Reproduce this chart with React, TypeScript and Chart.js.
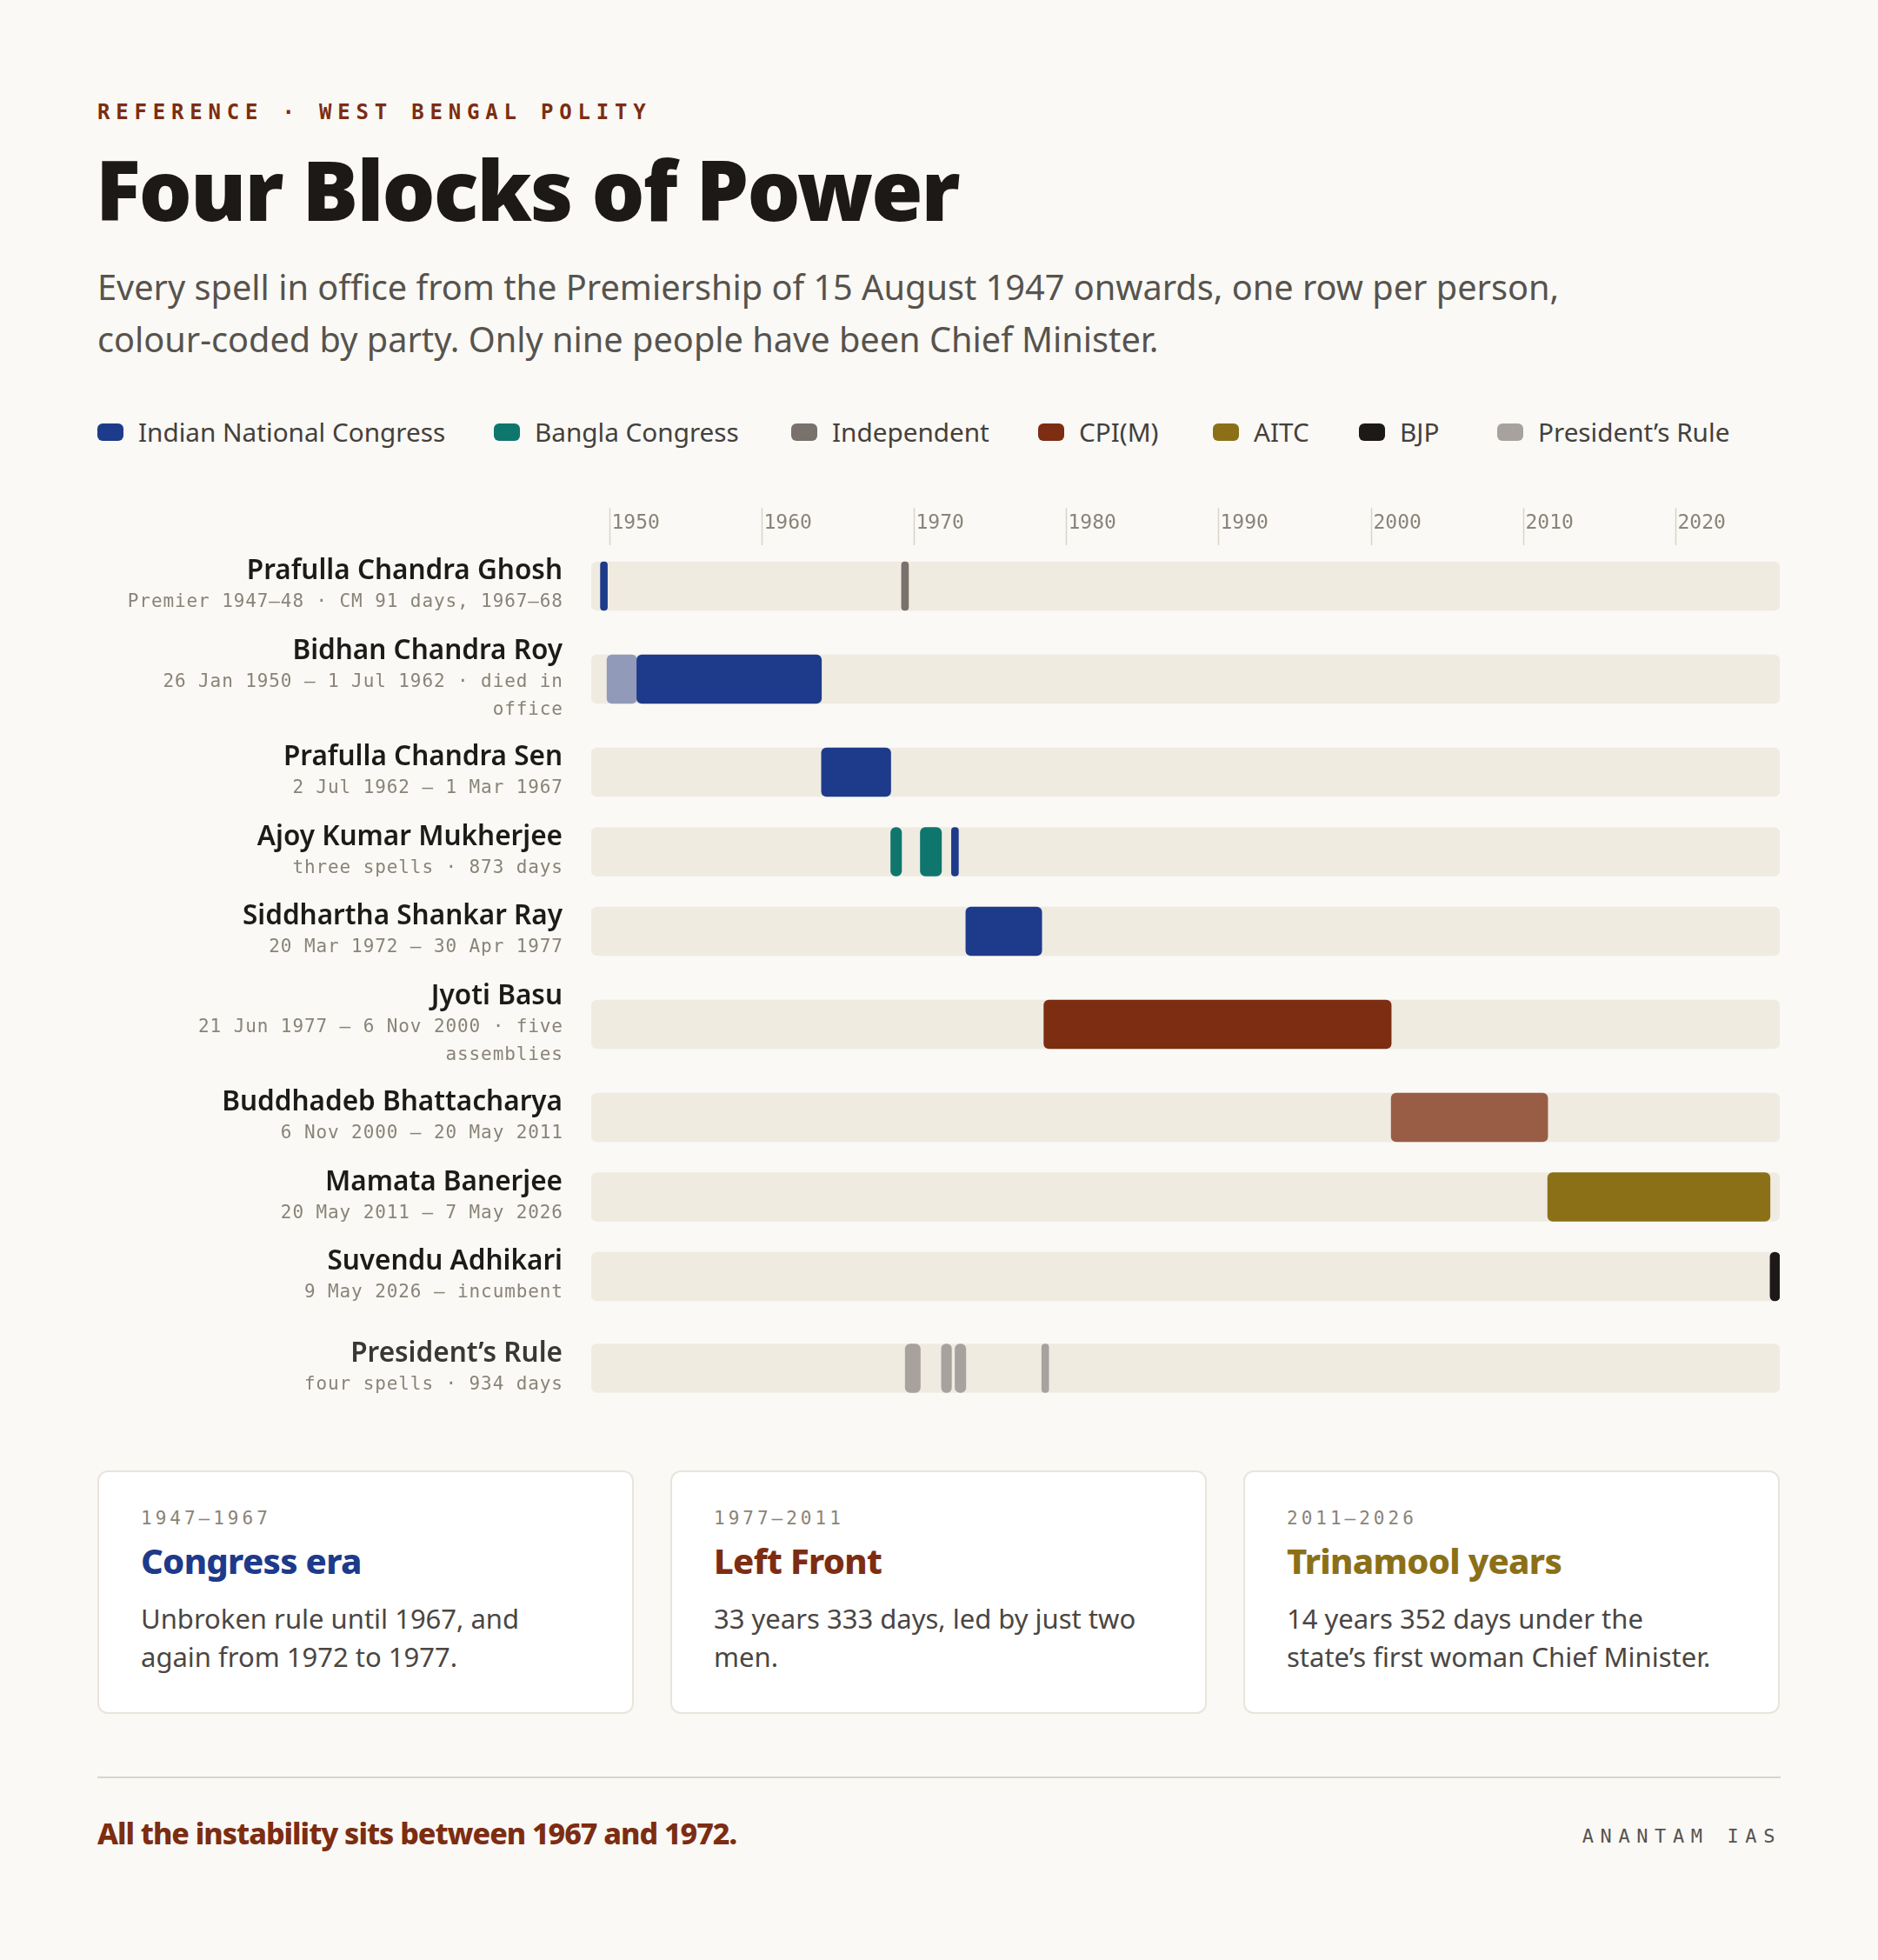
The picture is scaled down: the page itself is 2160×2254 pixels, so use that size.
import React, { useEffect, useRef } from "react";
import { Chart, registerables } from "chart.js";

Chart.register(...registerables);

// ---------- data ----------
const AXIS_START = 1947;
const AXIS_END = 2027;
const tickYears = [1950, 1960, 1970, 1980, 1990, 2000, 2010, 2020];

const rowNames = [
  "Prafulla Chandra Ghosh",
  "Bidhan Chandra Roy",
  "Prafulla Chandra Sen",
  "Ajoy Kumar Mukherjee",
  "Siddhartha Shankar Ray",
  "Jyoti Basu",
  "Buddhadeb Bhattacharya",
  "Mamata Banerjee",
  "Suvendu Adhikari",
  "President’s Rule",
];
const rowNotes = [
  ["Premier 1947–48 · CM 91 days, 1967–68"],
  ["26 Jan 1950 – 1 Jul 1962 · died in", "office"],
  ["2 Jul 1962 – 1 Mar 1967"],
  ["three spells · 873 days"],
  ["20 Mar 1972 – 30 Apr 1977"],
  ["21 Jun 1977 – 6 Nov 2000 · five", "assemblies"],
  ["6 Nov 2000 – 20 May 2011"],
  ["20 May 2011 – 7 May 2026"],
  ["9 May 2026 – incumbent"],
  ["four spells · 934 days"],
];
const rowStartsGroup = [false, false, false, false, false, false, false, false, false, true];

const partyNames = [
  "Indian National Congress",
  "Bangla Congress",
  "Independent",
  "CPI(M)",
  "AITC",
  "BJP",
  "President’s Rule",
];
const partyColors = ["#1E3A8A", "#0F766E", "#78716C", "#7C2D12", "#8B7018", "#1C1917", "#A8A29E"];

const spellRow = [0, 0, 1, 1, 2, 3, 3, 3, 4, 5, 6, 7, 8, 9, 9, 9, 9];
const spellParty = [0, 2, 0, 0, 0, 1, 1, 0, 0, 3, 3, 4, 5, 6, 6, 6, 6];
const spellStart = [
  "1947-08-15", "1967-11-21", "1948-01-23", "1950-01-26", "1962-07-02",
  "1967-03-01", "1969-02-25", "1971-04-02", "1972-03-20", "1977-06-21",
  "2000-11-06", "2011-05-20", "2026-05-09", "1968-02-20", "1970-07-30",
  "1971-06-29", "1977-04-30",
];
const spellEnd = [
  "1948-01-22", "1968-02-19", "1950-01-26", "1962-07-01", "1967-03-01",
  "1967-11-21", "1970-07-30", "1971-06-28", "1977-04-30", "2000-11-06",
  "2011-05-20", "2026-05-07", "", "1969-02-25", "1971-04-02",
  "1972-03-20", "1977-06-21",
];
const spellShade = [1, 1, 0.45, 1, 1, 1, 1, 1, 1, 1, 0.75, 1, 1, 1, 1, 1, 1];

const eraYears = ["1947–1967", "1977–2011", "2011–2026"];
const eraTitles = ["Congress era", "Left Front", "Trinamool years"];
const eraParty = [0, 3, 4];
const eraText = [
  ["Unbroken rule until 1967, and", "again from 1972 to 1977."],
  ["33 years 333 days, led by just two", "men."],
  ["14 years 352 days under the", "state’s first woman Chief Minister."],
];

// ---------- layout / style constants ----------
const BG = "#FAF9F5";
const TRACK = "#EFEBE1";
const MONO = '"DejaVu Sans Mono", monospace';
const SANS = '"Noto Sans", sans-serif';
const NOTE_COLOR = "#8A8378";
const LEGEND_ITEM_LEFT = [112, 568, 910, 1194, 1395, 1563, 1722];

// ---------- helpers ----------
function decYear(s: string): number {
  if (!s) return AXIS_END;
  const d = new Date(s + "T00:00:00Z");
  const y = d.getUTCFullYear();
  const a = Date.UTC(y, 0, 1);
  const b = Date.UTC(y + 1, 0, 1);
  return y + (d.getTime() - a) / (b - a);
}
function withAlpha(hex: string, a: number): string {
  const n = parseInt(hex.slice(1), 16);
  return `rgba(${(n >> 16) & 255},${(n >> 8) & 255},${n & 255},${a})`;
}

// row centres in chart-area pixels, derived from how many note lines each row has
const ROW_PITCH = 91.5;
const EXTRA_LINE_HALF = 15.5;
const GROUP_GAP = 14;
const FIRST_ROW = 54;
const rowCenters: number[] = [];
{
  let c = FIRST_ROW;
  rowNames.forEach((_, i) => {
    if (i > 0) {
      c += ROW_PITCH + (rowNotes[i - 1].length - 1) * EXTRA_LINE_HALF + (rowNotes[i].length - 1) * EXTRA_LINE_HALF;
      if (rowStartsGroup[i]) c += GROUP_GAP;
    }
    rowCenters.push(c);
  });
}

const CANVAS_W = 2160;
const CANVAS_H = 1080;
const AREA_H = 1000;

function ChartBlock() {
  const ref = useRef<HTMLCanvasElement | null>(null);
  useEffect(() => {
    if (!ref.current) return;

    const labelsPlugin = {
      id: "rowLabels",
      afterDatasetsDraw(chart: any) {
        const { ctx, chartArea } = chart;
        const ys = chart.scales.y;
        const right = chartArea.left - 33;
        ctx.save();
        ctx.textAlign = "right";
        ctx.textBaseline = "alphabetic";
        rowNames.forEach((name, i) => {
          const c = ys.getPixelForValue(rowCenters[i]);
          const n = rowNotes[i].length;
          const nameY = c - 8 - (n - 1) * 15.5;
          ctx.letterSpacing = "0px";
          ctx.font = `600 31.5px ${SANS}`;
          ctx.fillStyle = rowStartsGroup[i] ? "#3A3836" : "#1C1B1A";
          ctx.fillText(name, right, nameY);
          ctx.font = `21px ${MONO}`;
          ctx.letterSpacing = "0.9px";
          ctx.fillStyle = NOTE_COLOR;
          rowNotes[i].forEach((t, j) => {
            ctx.fillText(t, right + 0.9, nameY + 32 + j * 32);
          });
        });
        ctx.restore();
      },
    };

    const ticksPlugin = {
      id: "yearTicks",
      afterDraw(chart: any) {
        const { ctx, chartArea } = chart;
        const xs = chart.scales.xTicks || chart.scales.x;
        ctx.save();
        tickYears.forEach((yr) => {
          const x = Math.round(xs.getPixelForValue(yr)) + 0.5;
          ctx.strokeStyle = "#DAD4C8";
          ctx.lineWidth = 1.5;
          ctx.beginPath();
          ctx.moveTo(x, chartArea.top - 36);
          ctx.lineTo(x, chartArea.top + 7);
          ctx.stroke();
          ctx.font = `23px ${MONO}`;
          ctx.fillStyle = NOTE_COLOR;
          ctx.textAlign = "left";
          ctx.textBaseline = "alphabetic";
          ctx.fillText(String(yr), x + 2, chartArea.top - 12);
        });
        ctx.restore();
      },
    };

    const chart = new Chart(ref.current, {
      type: "bar",
      data: {
        datasets: [
          {
            label: "track",
            data: rowCenters.map((y) => ({ x: [AXIS_START, AXIS_END], y })),
            backgroundColor: TRACK,
            borderRadius: 7,
            borderSkipped: false,
            grouped: false,
            barThickness: 56,
            order: 2,
          } as any,
          {
            label: "spells",
            data: spellRow.map((r, i) => ({
              x: [decYear(spellStart[i]), decYear(spellEnd[i])],
              y: rowCenters[r],
            })),
            backgroundColor: spellParty.map((p, i) => withAlpha(partyColors[p], spellShade[i])),
            borderRadius: 6,
            borderSkipped: false,
            grouped: false,
            barThickness: 56,
            minBarLength: 8,
            order: 1,
          } as any,
        ],
      },
      options: {
        indexAxis: "y",
        animation: false,
        responsive: false,
        maintainAspectRatio: false,
        layout: { padding: { left: 680, right: CANVAS_W - 2047, top: 60, bottom: CANVAS_H - 60 - AREA_H } },
        scales: {
          x: { type: "linear", min: AXIS_START, max: AXIS_END, display: false, offset: false },
          xTicks: { type: "linear", axis: "x", position: "top", min: 1948.8, max: 2026.87, display: false, offset: false },
          y: {
            type: "linear",
            min: 0,
            max: AREA_H,
            reverse: true,
            display: false,
            offset: false,
            grid: { offset: false },
          },
        } as any,
        plugins: { legend: { display: false }, tooltip: { enabled: false } },
      },
      plugins: [labelsPlugin, ticksPlugin],
    });
    return () => chart.destroy();
  }, []);
  return (
    <canvas
      ref={ref}
      width={CANVAS_W}
      height={CANVAS_H}
      style={{ position: "absolute", left: 0, top: 560, width: CANVAS_W, height: CANVAS_H }}
    />
  );
}

export default function App() {
  return (
    <div
      style={{
        position: "relative",
        width: 2160,
        height: 2254,
        background: BG,
        overflow: "hidden",
        fontFamily: SANS,
      }}
    >
      <style>{`body{margin:0;background:${BG};}`}</style>
      <div
        style={{
          position: "absolute",
          left: 112,
          top: 117,
          fontFamily: MONO,
          fontWeight: 700,
          fontSize: 24,
          lineHeight: "24px",
          letterSpacing: 6.8,
          color: "#7C2D12",
          whiteSpace: "nowrap",
        }}
      >
        REFERENCE · WEST BENGAL POLITY
      </div>
      <div
        style={{
          position: "absolute",
          left: 110,
          top: 169,
          fontSize: 96,
          lineHeight: "96px",
          fontWeight: 900,
          letterSpacing: "-0.02em",
          color: "#1C1917",
          whiteSpace: "nowrap",
        }}
      >
        Four Blocks of Power
      </div>
      <div
        style={{
          position: "absolute",
          left: 112,
          top: 300,
          fontSize: 39.7,
          lineHeight: "60px",
          color: "#57534E",
          whiteSpace: "nowrap",
        }}
      >
        <div>Every spell in office from the Premiership of 15 August 1947 onwards, one row per person,</div>
        <div>colour-coded by party. Only nine people have been Chief Minister.</div>
      </div>
      {partyNames.map((p, i) => (
        <div
          key={p}
          style={{
            position: "absolute",
            left: LEGEND_ITEM_LEFT[i],
            top: 482,
            height: 30,
            display: "flex",
            alignItems: "center",
            gap: 17,
            whiteSpace: "nowrap",
          }}
        >
          <div style={{ width: 30, height: 20, borderRadius: 6, background: partyColors[i] }} />
          <div style={{ fontSize: 29.7, lineHeight: "30px", color: "#44403C" }}>{p}</div>
        </div>
      ))}

      <ChartBlock />

      <div
        style={{
          position: "absolute",
          left: 112,
          top: 1691,
          width: 1935,
          height: 280,
          display: "grid",
          gridTemplateColumns: "1fr 1fr 1fr",
          gap: 42,
        }}
      >
        {eraTitles.map((t, i) => (
          <div
            key={t}
            style={{
              position: "relative",
              boxSizing: "border-box",
              height: 280,
              background: "#FFFFFF",
              border: "2px solid #E9E5DC",
              borderRadius: 12,
            }}
          >
            <div
              style={{
                position: "absolute",
                left: 48,
                top: 43,
                fontFamily: MONO,
                fontSize: 21,
                lineHeight: "21px",
                letterSpacing: 4,
                color: NOTE_COLOR,
                whiteSpace: "nowrap",
              }}
            >
              {eraYears[i]}
            </div>
            <div
              style={{
                position: "absolute",
                left: 48,
                top: 82,
                fontSize: 40,
                lineHeight: "40px",
                fontWeight: 800,
                letterSpacing: "-0.017em",
                color: partyColors[eraParty[i]],
                whiteSpace: "nowrap",
              }}
            >
              {t}
            </div>
            <div
              style={{
                position: "absolute",
                left: 48,
                top: 146,
                fontSize: 31,
                lineHeight: "44px",
                color: "#4A4643",
                whiteSpace: "nowrap",
              }}
            >
              {eraText[i].map((l) => (
                <div key={l}>{l}</div>
              ))}
            </div>
          </div>
        ))}
      </div>

      <div style={{ position: "absolute", left: 112, top: 2043, width: 1936, height: 2, background: "#D8D5CE" }} />
      <div
        style={{
          position: "absolute",
          left: 112,
          top: 2091,
          fontSize: 34,
          lineHeight: "34px",
          fontWeight: 800,
          letterSpacing: "-0.03em",
          color: "#7C2D12",
          whiteSpace: "nowrap",
        }}
      >
        All the instability sits between 1967 and 1972.
      </div>
      <div
        style={{
          position: "absolute",
          right: 111,
          top: 2101,
          fontFamily: MONO,
          fontSize: 22,
          lineHeight: "22px",
          letterSpacing: 7.6,
          color: "#57534E",
          whiteSpace: "nowrap",
        }}
      >
        ANANTAM IAS
      </div>
    </div>
  );
}
